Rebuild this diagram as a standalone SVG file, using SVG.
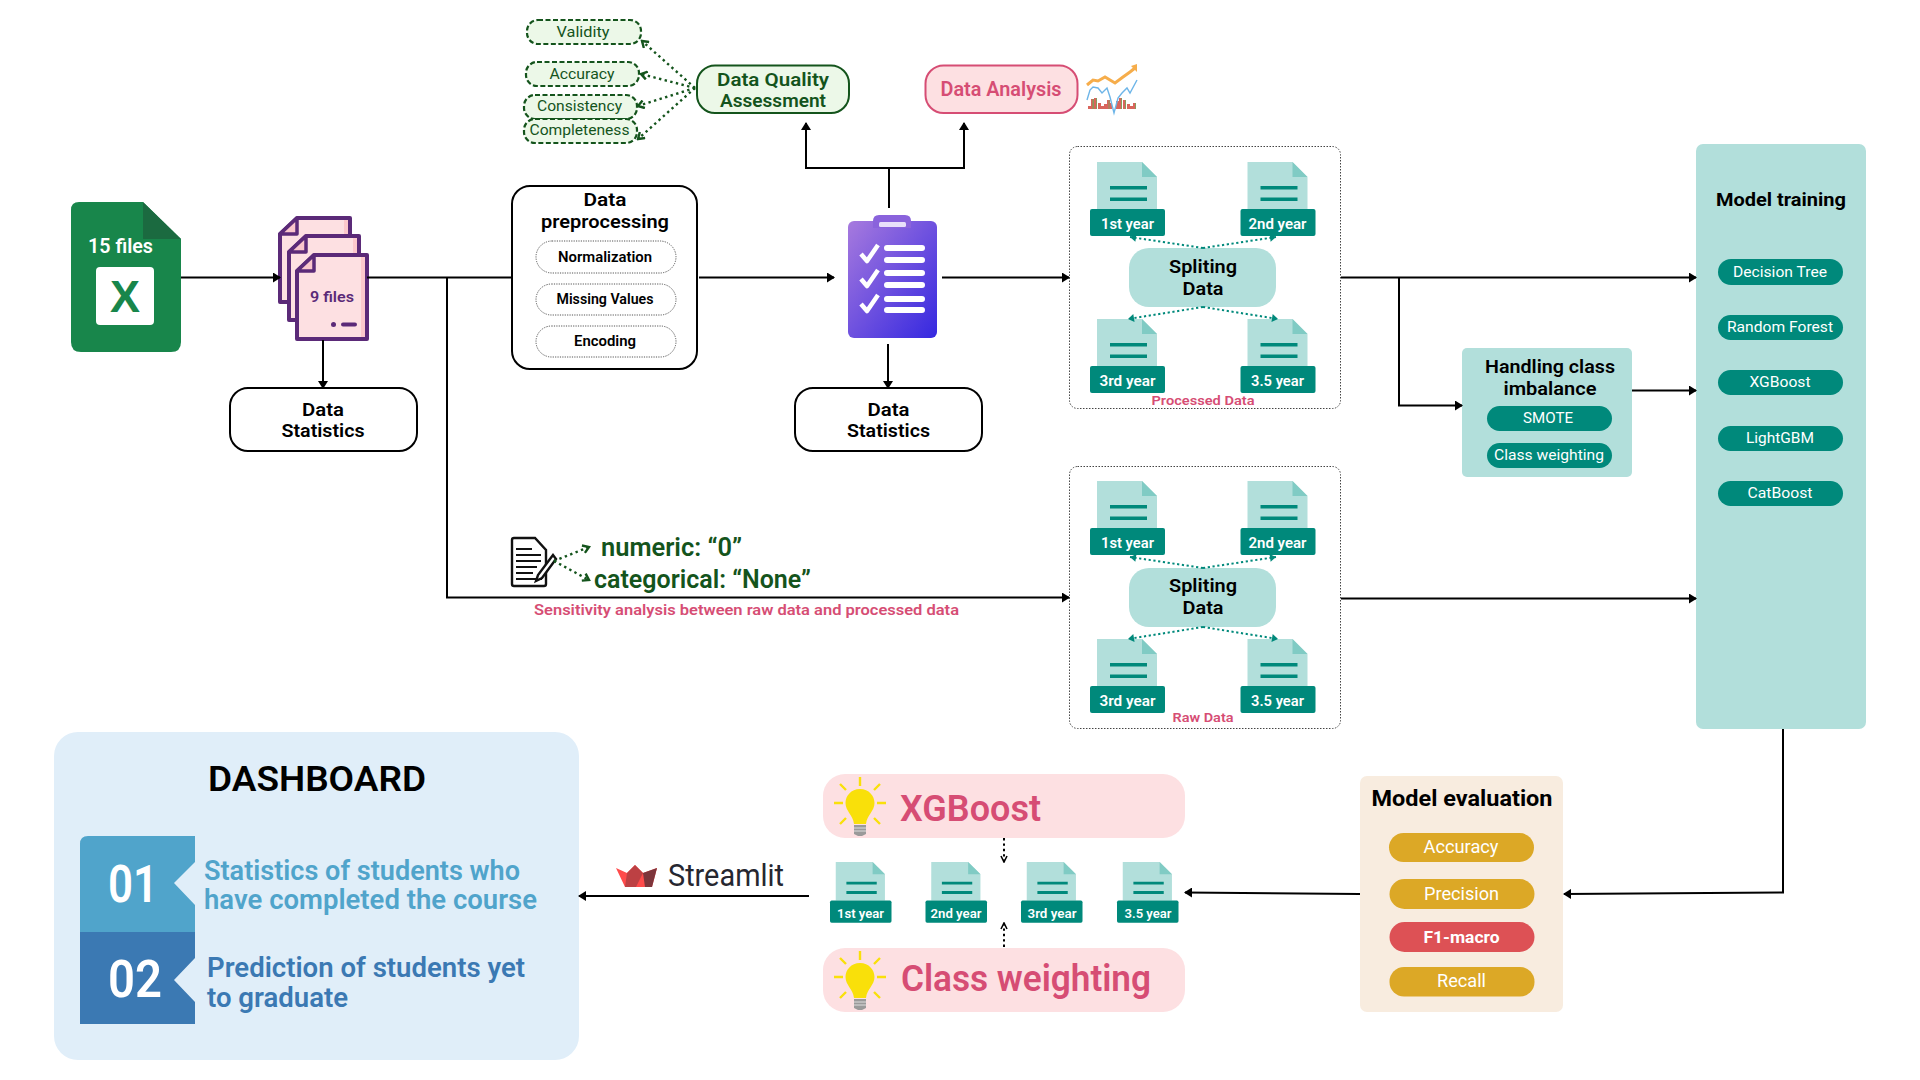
<svg xmlns="http://www.w3.org/2000/svg" xmlns:xlink="http://www.w3.org/1999/xlink" width="1920" height="1080" viewBox="0 0 1920 1080">
<style>
text{font-family:Roboto,"Noto Sans","Liberation Sans",sans-serif;text-anchor:middle}
.s{font-weight:600}.b{font-weight:700}.st{text-anchor:start}
.k{fill:#000}.w{fill:#fff}.g{fill:#14541c}.p{fill:#d64d74}
.c{fill:none;stroke:#000;stroke-width:2;marker-end:url(#a)}
.l{fill:none;stroke:#000;stroke-width:2}
.dg{fill:none;stroke:#14541c;stroke-width:2.4;stroke-dasharray:2.4 3.4;marker-end:url(#og)}
.dt{fill:none;stroke:#00897b;stroke-width:2;stroke-dasharray:2.2 2.6;marker-end:url(#ot)}
.dk{fill:none;stroke:#000;stroke-width:2;stroke-dasharray:2.4 3;marker-end:url(#ok)}
.box{fill:#fff;stroke:#000;stroke-width:2}
.dash{fill:#ecf8e8;stroke:#14541c;stroke-width:2.2;stroke-dasharray:5 2.5}
.hair{fill:#fff;stroke:#555;stroke-width:1;stroke-dasharray:1.2 1.2}
.panel{fill:#fff;stroke:#444;stroke-width:1;stroke-dasharray:1.5 1.5}
.teal{fill:#00897b}.lt{fill:#b2dfdb}.gold{fill:#dca826}.pink{fill:#fde0e2}
</style>
<defs>
<marker id="a" viewBox="0 0 8 10" refX="7" refY="5" markerWidth="8" markerHeight="10" markerUnits="userSpaceOnUse" orient="auto"><path d="M0 0L8 5L0 10z" fill="#000"/></marker>
<marker id="og" viewBox="0 0 10 10" refX="8" refY="5" markerWidth="10" markerHeight="10" markerUnits="userSpaceOnUse" orient="auto"><path d="M2 1L8 5L2 9" fill="none" stroke="#14541c" stroke-width="2.400"/></marker>
<marker id="ot" viewBox="0 0 8 8" refX="7" refY="4" markerWidth="8" markerHeight="8" markerUnits="userSpaceOnUse" orient="auto"><path d="M1 0L7 4L1 8z" fill="#00897b"/></marker>
<marker id="ok" viewBox="0 0 8 8" refX="7" refY="4" markerWidth="8" markerHeight="8" markerUnits="userSpaceOnUse" orient="auto"><path d="M1 1L7 4L1 7" fill="none" stroke="#000" stroke-width="1.600"/></marker>
<linearGradient id="clip" x1="0" y1="0" x2="1" y2="1"><stop offset="0" stop-color="#a77ade"/><stop offset="1" stop-color="#3528e0"/></linearGradient>
<g id="doc">
<path class="lt" d="M7 0H52L67 15V47H7z"/><path d="M52 0L67 15H52z" fill="#80cbc4"/>
<path class="teal" d="M20 24h37v3.400H20zM20 35.500h37v3.400H20z"/>
<rect class="teal" x="0" y="47" width="75" height="27" rx="2"/>
</g>
<g id="bulb">
<path d="M0 -28V-19M-26 -2H-17M17 -2H26M-20 -21L-14 -15M20 -21L14 -15M-20 19L-14 13M20 19L14 13" stroke="#f9e00a" stroke-width="2.400" fill="none"/>
<path d="M0 -16C-9 -16 -14.500 -9 -14.500 -2C-14.500 6 -7 10 -6 19H6C7 10 14.500 6 14.500 -2C14.500 -9 9 -16 0 -16z" fill="#f9e00a"/>
<path d="M-6 20H6V29L2 31H-2L-6 29z" fill="#9a9a9a"/><path d="M-6 23H6M-6 26H6" stroke="#ddd" stroke-width="1"/>
</g>
<g id="page">
<path d="M17 0H70V84H0V16z" fill="#fde0e2" stroke="#5b2a78" stroke-width="4" stroke-linejoin="round"/>
<path d="M64 2H68V82H64z" fill="#fcc8cc"/>
<path d="M17 0V16H0z" fill="#f9c6cc" stroke="#5b2a78" stroke-width="3.500" stroke-linejoin="round"/>
</g>
</defs>
<rect width="1920" height="1080" fill="#fff"/>

<g id="excel">
<path d="M79 202H143L181 239V342Q181 352 171 352H81Q71 352 71 342V210Q71 202 79 202z" fill="#18864b"/>
<path d="M143 202L181 239H143z" fill="#1b6a40"/>
<rect x="96" y="267" width="58" height="58" rx="4" fill="#fff"/>
<text x="125" y="312" font-size="45" class="b" fill="#18864b" style="font-family:'Liberation Sans',sans-serif">X</text>
<text x="120.500" y="253" font-size="20" class="s w" textLength="65" lengthAdjust="spacingAndGlyphs">15 files</text>
</g>

<g id="files">
<use xlink:href="#page" href="#page" x="280" y="218"/>
<use xlink:href="#page" href="#page" x="289" y="236"/>
<use xlink:href="#page" href="#page" x="297" y="255"/>
<text x="332" y="302" font-size="15" class="s" fill="#5b2a78" textLength="44" lengthAdjust="spacingAndGlyphs">9 files</text>
<circle cx="333.500" cy="324.500" r="2.500" fill="#5b2a78"/><rect x="341" y="322.500" width="16" height="4" rx="2" fill="#5b2a78"/>
</g>

<g id="stats1">
<rect class="box" x="230" y="388" width="187" height="63" rx="18"/>
<text x="323" y="416" font-size="18.500" class="s k" textLength="42" lengthAdjust="spacingAndGlyphs">Data</text>
<text x="323" y="437" font-size="18.500" class="s k" textLength="83" lengthAdjust="spacingAndGlyphs">Statistics</text>
</g>

<g id="preprocessing">
<rect class="box" x="512" y="186" width="185" height="183" rx="18"/>
<text x="605" y="206" font-size="18.500" class="s k" textLength="43" lengthAdjust="spacingAndGlyphs">Data</text>
<text x="605" y="228" font-size="18.500" class="s k" textLength="128" lengthAdjust="spacingAndGlyphs">preprocessing</text>
<rect class="hair" x="536" y="241" width="140" height="32" rx="16"/>
<text x="605" y="262" font-size="14" class="s k" textLength="94" lengthAdjust="spacingAndGlyphs">Normalization</text>
<rect class="hair" x="536" y="284" width="140" height="31" rx="15.500"/>
<text x="605" y="304" font-size="14" class="s k" textLength="97" lengthAdjust="spacingAndGlyphs">Missing Values</text>
<rect class="hair" x="536" y="326" width="140" height="31" rx="15.500"/>
<text x="605" y="346" font-size="14" class="s k" textLength="62" lengthAdjust="spacingAndGlyphs">Encoding</text>
</g>

<g id="quality">
<rect class="dash" x="527" y="20" width="114" height="24" rx="11"/>
<text x="583" y="37" font-size="15" class="g" textLength="53" lengthAdjust="spacingAndGlyphs">Validity</text>
<rect class="dash" x="526" y="62" width="113" height="24" rx="11"/>
<text x="582" y="79" font-size="15" class="g" textLength="65" lengthAdjust="spacingAndGlyphs">Accuracy</text>
<rect class="dash" x="524" y="95" width="113" height="24" rx="11"/>
<text x="579.500" y="111" font-size="15" class="g" textLength="85" lengthAdjust="spacingAndGlyphs">Consistency</text>
<rect class="dash" x="524" y="119" width="113" height="24" rx="11"/>
<text x="579.500" y="135" font-size="15" class="g" textLength="100" lengthAdjust="spacingAndGlyphs">Completeness</text>
<rect x="697" y="65.500" width="152" height="47.500" rx="18" fill="#ecf8e8" stroke="#14541c" stroke-width="2"/>
<text x="773" y="86" font-size="18.500" class="s g" textLength="112" lengthAdjust="spacingAndGlyphs">Data Quality</text>
<text x="773" y="107" font-size="18.500" class="s g" textLength="106" lengthAdjust="spacingAndGlyphs">Assessment</text>
</g>

<g id="analysis">
<rect x="925.500" y="65.500" width="152" height="47.500" rx="18" fill="#fde0e2" stroke="#d64d74" stroke-width="2"/>
<text x="1001" y="96" font-size="20" class="s p" textLength="121" lengthAdjust="spacingAndGlyphs">Data Analysis</text>
<path d="M1088 109v-3h3v3zM1091 109v-10h3v10zM1094 109v-11h3v11zM1098 109v-6h3v6zM1101 109v-3h3v3zM1104 109v-5h3v5zM1107 109v-9h3v9zM1110 109v-6h2v6zM1116 109v-8h3v8zM1119 109v-11h3v11zM1123 109v-9h3v9zM1127 109v-5h3v5zM1130 109v-3h3v3zM1133 109v-6h3v6z" fill="#d9655c"/>
<path d="M1092.500 109v-10h1.500v10zM1096 109v-11h1v11zM1108.500 109v-9h1v9zM1121 109v-11h1v11zM1125 109v-9h1v9zM1135 109v-6h1v6z" fill="#8a9a5b"/>
<path d="M1087 100L1090 90L1093 87L1098 88L1102 93L1107 88L1110 97L1114 113L1118 98L1122 93L1127 88L1130 93L1137 80" fill="none" stroke="#6db5e8" stroke-width="1.400"/>
<path d="M1087 85L1093 80L1098 81L1105 77L1115 83L1123 77L1130 72L1135 68" fill="none" stroke="#f6ad4b" stroke-width="3"/>
<path d="M1131 66L1137 64V72z" fill="#f6ad4b"/>
</g>

<g id="checklist">
<rect x="848" y="221" width="89" height="117" rx="6" fill="url(#clip)"/>
<path d="M873 228V221Q873 215 879 215H905Q911 215 911 221V228z" fill="#8a63dc"/>
<rect x="879" y="222" width="27" height="5" rx="1.500" fill="#e8e0fa"/>
<path d="M861 254L867 261L878 245M861 279L867 286L878 270M861 304L867 311L878 295" fill="none" stroke="#fff" stroke-width="4.500" stroke-linejoin="round"/>
<path d="M887 248H922M887 260H922M887 273H922M887 285H922M887 299H922M887 310H922" stroke="#fff" stroke-width="6" stroke-linecap="round" fill="none"/>
</g>

<g id="stats2">
<rect class="box" x="795" y="388" width="187" height="63" rx="18"/>
<text x="888.500" y="416" font-size="18.500" class="s k" textLength="42" lengthAdjust="spacingAndGlyphs">Data</text>
<text x="888.500" y="437" font-size="18.500" class="s k" textLength="83" lengthAdjust="spacingAndGlyphs">Statistics</text>
</g>

<g id="processed">
<rect class="panel" x="1069.500" y="146.500" width="271" height="262" rx="8"/>
<use xlink:href="#doc" href="#doc" x="1090" y="162"/>
<use xlink:href="#doc" href="#doc" x="1240.500" y="162"/>
<use xlink:href="#doc" href="#doc" x="1090" y="319"/>
<use xlink:href="#doc" href="#doc" x="1240.500" y="319"/>
<text x="1127.500" y="229" font-size="15" class="s w" textLength="53" lengthAdjust="spacingAndGlyphs">1st year</text>
<text x="1277.500" y="229" font-size="15" class="s w" textLength="58" lengthAdjust="spacingAndGlyphs">2nd year</text>
<text x="1127.500" y="386" font-size="15" class="s w" textLength="56" lengthAdjust="spacingAndGlyphs">3rd year</text>
<text x="1277.500" y="386" font-size="15" class="s w" textLength="53" lengthAdjust="spacingAndGlyphs">3.5 year</text>
<rect class="lt" x="1129" y="248" width="147" height="59" rx="20"/>
<text x="1203" y="273" font-size="18.500" class="s k" textLength="68" lengthAdjust="spacingAndGlyphs">Spliting</text>
<text x="1203" y="295" font-size="18.500" class="s k" textLength="41" lengthAdjust="spacingAndGlyphs">Data</text>
<text x="1203" y="405" font-size="13.500" class="s p" textLength="103" lengthAdjust="spacingAndGlyphs">Processed Data</text>
</g>

<g id="raw">
<rect class="panel" x="1069.500" y="466.500" width="271" height="262" rx="8"/>
<use xlink:href="#doc" href="#doc" x="1090" y="481"/>
<use xlink:href="#doc" href="#doc" x="1240.500" y="481"/>
<use xlink:href="#doc" href="#doc" x="1090" y="639"/>
<use xlink:href="#doc" href="#doc" x="1240.500" y="639"/>
<text x="1127.500" y="548" font-size="15" class="s w" textLength="53" lengthAdjust="spacingAndGlyphs">1st year</text>
<text x="1277.500" y="548" font-size="15" class="s w" textLength="58" lengthAdjust="spacingAndGlyphs">2nd year</text>
<text x="1127.500" y="706" font-size="15" class="s w" textLength="56" lengthAdjust="spacingAndGlyphs">3rd year</text>
<text x="1277.500" y="706" font-size="15" class="s w" textLength="53" lengthAdjust="spacingAndGlyphs">3.5 year</text>
<rect class="lt" x="1129" y="568" width="147" height="59" rx="20"/>
<text x="1203" y="592" font-size="18.500" class="s k" textLength="68" lengthAdjust="spacingAndGlyphs">Spliting</text>
<text x="1203" y="614" font-size="18.500" class="s k" textLength="41" lengthAdjust="spacingAndGlyphs">Data</text>
<text x="1203" y="722" font-size="13.500" class="s p" textLength="61" lengthAdjust="spacingAndGlyphs">Raw Data</text>
</g>

<g id="imputation">
<path d="M514 538H535L546 550V584Q546 586 544 586H514Q512 586 512 584V540Q512 538 514 538z" fill="#fff" stroke="#111" stroke-width="2.400"/>
<path d="M516 549H532M516 555H541M516 561H541M516 567H537M516 573H533M516 579H542" stroke="#111" stroke-width="2"/>
<path d="M553 555L538 575L536 581L542 578L556 559z" fill="#fff" stroke="#111" stroke-width="2.400"/>
<text class="s g st" x="601" y="556" font-size="25" textLength="141" lengthAdjust="spacingAndGlyphs">numeric: “0”</text>
<text class="s g st" x="594" y="588" font-size="25" textLength="217" lengthAdjust="spacingAndGlyphs">categorical: “None”</text>
<text class="s p st" x="534" y="615" font-size="15.500" textLength="425" lengthAdjust="spacingAndGlyphs">Sensitivity analysis between raw data and processed data</text>
</g>

<g id="imbalance">
<rect class="lt" x="1462" y="348" width="170" height="129" rx="5"/>
<text x="1550" y="373" font-size="18.500" class="s k" textLength="130" lengthAdjust="spacingAndGlyphs">Handling class</text>
<text x="1550" y="395" font-size="18.500" class="s k" textLength="93" lengthAdjust="spacingAndGlyphs">imbalance</text>
<rect class="teal" x="1487" y="406" width="125" height="25" rx="12.500"/>
<text class="w" x="1548" y="423" font-size="15" textLength="50" lengthAdjust="spacingAndGlyphs">SMOTE</text>
<rect class="teal" x="1487" y="443" width="125" height="25" rx="12.500"/>
<text class="w" x="1549" y="460" font-size="15" textLength="110" lengthAdjust="spacingAndGlyphs">Class weighting</text>
</g>

<g id="training">
<rect class="lt" x="1696" y="144" width="170" height="585" rx="7"/>
<text x="1781" y="206" font-size="19" class="b k" textLength="130" lengthAdjust="spacingAndGlyphs">Model training</text>
<rect class="teal" x="1718" y="259" width="125" height="26" rx="13"/>
<text class="w" x="1780" y="277" font-size="15" textLength="94" lengthAdjust="spacingAndGlyphs">Decision Tree</text>
<rect class="teal" x="1718" y="315" width="125" height="25" rx="12.500"/>
<text class="w" x="1780" y="332" font-size="15" textLength="106" lengthAdjust="spacingAndGlyphs">Random Forest</text>
<rect class="teal" x="1718" y="370" width="125" height="25" rx="12.500"/>
<text class="w" x="1780" y="387" font-size="15" textLength="61" lengthAdjust="spacingAndGlyphs">XGBoost</text>
<rect class="teal" x="1718" y="426" width="125" height="25" rx="12.500"/>
<text class="w" x="1780" y="443" font-size="15" textLength="68" lengthAdjust="spacingAndGlyphs">LightGBM</text>
<rect class="teal" x="1718" y="481" width="125" height="25" rx="12.500"/>
<text class="w" x="1780" y="498" font-size="15" textLength="65" lengthAdjust="spacingAndGlyphs">CatBoost</text>
</g>

<g id="evaluation">
<rect x="1360" y="776" width="203" height="236" rx="7" fill="#f8ecdf"/>
<text x="1462" y="806" font-size="22" class="b k" textLength="181" lengthAdjust="spacingAndGlyphs">Model evaluation</text>
<rect class="gold" x="1389" y="833" width="145" height="29" rx="14.500"/>
<text class="w" x="1461" y="853" font-size="18" textLength="75" lengthAdjust="spacingAndGlyphs">Accuracy</text>
<rect class="gold" x="1389.500" y="879" width="145" height="30" rx="15"/>
<text class="w" x="1461.500" y="900" font-size="18" textLength="75" lengthAdjust="spacingAndGlyphs">Precision</text>
<rect x="1389.500" y="922" width="145" height="30" rx="15" fill="#dd5155"/>
<text class="b w" x="1461.500" y="943" font-size="17" textLength="76" lengthAdjust="spacingAndGlyphs">F1-macro</text>
<rect class="gold" x="1389.500" y="967" width="145" height="29.500" rx="14.500"/>
<text class="w" x="1461.500" y="987" font-size="18" textLength="49" lengthAdjust="spacingAndGlyphs">Recall</text>
</g>

<g id="best-model">
<rect class="pink" x="823" y="774" width="362" height="64" rx="22"/>
<use xlink:href="#bulb" href="#bulb" x="860" y="805"/>
<text class="s p st" x="900" y="821" font-size="36" textLength="141" lengthAdjust="spacingAndGlyphs">XGBoost</text>
</g>
<g id="best-method">
<rect class="pink" x="823" y="948" width="362" height="64" rx="22"/>
<use xlink:href="#bulb" href="#bulb" x="860" y="979"/>
<text class="s p st" x="901" y="991" font-size="36" textLength="250" lengthAdjust="spacingAndGlyphs">Class weighting</text>
</g>

<g id="years">
<use xlink:href="#doc" href="#doc" transform="translate(830 862) scale(.82)"/>
<use xlink:href="#doc" href="#doc" transform="translate(925.500 862) scale(.82)"/>
<use xlink:href="#doc" href="#doc" transform="translate(1021 862) scale(.82)"/>
<use xlink:href="#doc" href="#doc" transform="translate(1117 862) scale(.82)"/>
<text x="860.500" y="918" font-size="13" class="s w" textLength="47" lengthAdjust="spacingAndGlyphs">1st year</text>
<text x="956" y="918" font-size="13" class="s w" textLength="51" lengthAdjust="spacingAndGlyphs">2nd year</text>
<text x="1052" y="918" font-size="13" class="s w" textLength="49" lengthAdjust="spacingAndGlyphs">3rd year</text>
<text x="1148" y="918" font-size="13" class="s w" textLength="47" lengthAdjust="spacingAndGlyphs">3.5 year</text>
</g>

<g id="streamlit">
<path d="M616 868L627 873L635 865L643 873L657 868L652 887H625z" fill="#ff4b4b"/>
<path d="M635 865L643 873L636 887H625L627 873z" fill="#bd4043"/>
<path d="M657 868L652 887H645L643 873z" fill="#7d353b"/>
<text class="st" x="668" y="886" font-size="31" fill="#262730" textLength="116" lengthAdjust="spacingAndGlyphs">Streamlit</text>
</g>

<g id="dashboard">
<rect x="54" y="732" width="525" height="328" rx="24" fill="#e0eef9"/>
<text x="317" y="791" font-size="35" class="s k" textLength="218" lengthAdjust="spacingAndGlyphs">DASHBOARD</text>
<path d="M88 836H195V862L174 883L195 905V932H80V844Q80 836 88 836z" fill="#50a4cb"/>
<path d="M80 932H195V958L174 980L195 1002V1024H80z" fill="#3b79b3"/>
<text x="133" y="902" font-size="52" class="s w" textLength="50" lengthAdjust="spacingAndGlyphs">01</text>
<text x="135" y="997" font-size="52" class="s w" textLength="54" lengthAdjust="spacingAndGlyphs">02</text>
<text class="s st" fill="#50a4cb" x="204" y="880" font-size="27" textLength="316" lengthAdjust="spacingAndGlyphs">Statistics of students who</text>
<text class="s st" fill="#50a4cb" x="204" y="909" font-size="27" textLength="333" lengthAdjust="spacingAndGlyphs">have completed the course</text>
<text class="s st" fill="#3b79b3" x="207" y="977" font-size="27" textLength="318" lengthAdjust="spacingAndGlyphs">Prediction of students yet</text>
<text class="s st" fill="#3b79b3" x="207" y="1007" font-size="27" textLength="141" lengthAdjust="spacingAndGlyphs">to graduate</text>
</g>

<g id="connectors">
<path class="c" d="M181 277.500H280"/>
<path class="l" d="M367 277.500H512"/>
<path class="c" d="M323 340V388"/>
<path class="c" d="M447 277V597.500H1069"/>
<path class="c" d="M699 277.500H834"/>
<path class="c" d="M942 277.500H1069"/>
<path class="c" d="M888 344V388"/>
<path class="l" d="M889 208V168"/>
<path class="c" d="M889 168H806V123"/>
<path class="c" d="M889 168H964V123"/>
<path class="c" d="M1341 277.500H1696"/>
<path class="c" d="M1399 277.500V405.500H1462"/>
<path class="c" d="M1632 390.500H1696"/>
<path class="c" d="M1341 598.500H1696"/>
<path class="c" d="M1783 729V892.500L1564 894"/>
<path class="c" d="M1360 894L1185 892.500"/>
<path class="c" d="M809 896H579"/>
<path class="dg" d="M695 88L642 41"/>
<path class="dg" d="M695 88L641 74"/>
<path class="dg" d="M695 88L638 106"/>
<path class="dg" d="M695 88L638 139"/>
<path class="dg" d="M554 561L589 547"/>
<path class="dg" d="M554 561L589 580"/>
<path class="dt" d="M1203 248L1130 237"/>
<path class="dt" d="M1203 248L1276 237"/>
<path class="dt" d="M1203 307L1128 319"/>
<path class="dt" d="M1203 307L1278 319"/>
<path class="dt" d="M1203 568L1130 557"/>
<path class="dt" d="M1203 568L1276 557"/>
<path class="dt" d="M1203 627L1128 639"/>
<path class="dt" d="M1203 627L1278 639"/>
<path class="dk" d="M1004 838V862"/>
<path class="dk" d="M1004 947V923"/>
</g>
</svg>
